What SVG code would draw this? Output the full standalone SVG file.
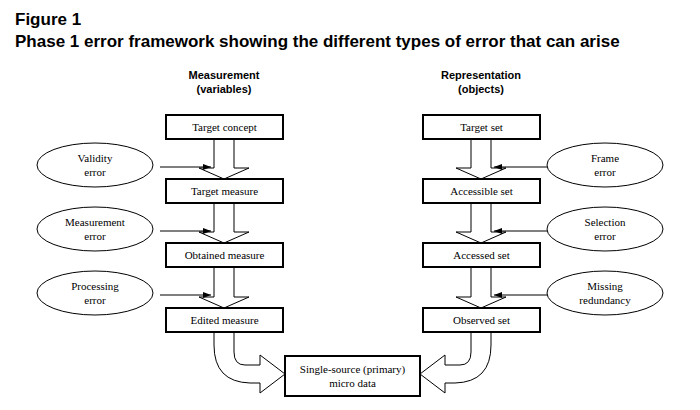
<svg xmlns="http://www.w3.org/2000/svg" width="700" height="410" viewBox="0 0 700 410">
<defs>
<style>
.t{font-family:"Liberation Sans",Arial,sans-serif;font-weight:bold;fill:#000}
.s{font-family:"Liberation Serif","Times New Roman",serif;font-size:11px;fill:#000;text-anchor:middle}
.b{fill:#fff;stroke:#000;stroke-width:2}
.e{fill:#fff;stroke:#000;stroke-width:1}
.a{fill:#fff;stroke:#000;stroke-width:1}
.l{stroke:#000;stroke-width:1;fill:none}
</style>
<marker id="m" markerWidth="8" markerHeight="6" refX="8" refY="3" orient="auto" markerUnits="userSpaceOnUse"><path d="M0,0L8,3L0,6z" fill="#000"/></marker>
</defs>
<rect width="700" height="410" fill="#fff"/>
<text class="t" x="15" y="25" font-size="17">Figure 1</text>
<text class="t" x="15" y="47" font-size="17">Phase 1 error framework showing the different types of error that can arise</text>
<text class="t" x="224" y="79" font-size="11" text-anchor="middle">Measurement</text>
<text class="t" x="224" y="93" font-size="11" text-anchor="middle">(variables)</text>
<text class="t" x="481" y="79" font-size="11" text-anchor="middle">Representation</text>
<text class="t" x="481" y="93" font-size="11" text-anchor="middle">(objects)</text>
<g id="connectors">
<path class="a" d="M214,139V168H199L224,179L249,168H234V139Z"/>
<path class="a" d="M214,203V232H199L224,243L249,232H234V203Z"/>
<path class="a" d="M214,267V297H199L224,308L249,297H234V267Z"/>
<path class="a" d="M471,139V168H456L481,179L506,168H491V139Z"/>
<path class="a" d="M471,203V232H456L481,243L506,232H491V203Z"/>
<path class="a" d="M471,267V297H456L481,308L506,297H491V267Z"/>
<path class="a" d="M214,332V345Q214,382 250,383H260V393L285,374L260,355V365H245Q234,365 234,352V332Z"/>
<path class="a" d="M491,332V345Q491,382 455,383H445V393L420,374L445,355V365H460Q471,365 471,352V332Z"/>
<line class="l" x1="160" y1="167" x2="211" y2="167" marker-end="url(#m)"/>
<line class="l" x1="160" y1="231" x2="211" y2="231" marker-end="url(#m)"/>
<line class="l" x1="160" y1="295" x2="211" y2="295" marker-end="url(#m)"/>
<line class="l" x1="548" y1="167" x2="494" y2="167" marker-end="url(#m)"/>
<line class="l" x1="548" y1="231" x2="494" y2="231" marker-end="url(#m)"/>
<line class="l" x1="548" y1="295" x2="494" y2="295" marker-end="url(#m)"/>
</g>
<g id="n1"><rect class="b" x="166" y="115" width="117" height="24"/><text class="s" x="224.5" y="131">Target concept</text></g>
<g id="n2"><rect class="b" x="166" y="179" width="117" height="24"/><text class="s" x="224.5" y="195">Target measure</text></g>
<g id="n3"><rect class="b" x="166" y="243" width="117" height="24"/><text class="s" x="224.5" y="259">Obtained measure</text></g>
<g id="n4"><rect class="b" x="166" y="308" width="117" height="24"/><text class="s" x="224.5" y="324">Edited measure</text></g>
<g id="n5"><rect class="b" x="423" y="115" width="117" height="24"/><text class="s" x="481.5" y="131">Target set</text></g>
<g id="n6"><rect class="b" x="423" y="179" width="117" height="24"/><text class="s" x="481.5" y="195">Accessible set</text></g>
<g id="n7"><rect class="b" x="423" y="243" width="117" height="24"/><text class="s" x="481.5" y="259">Accessed set</text></g>
<g id="n8"><rect class="b" x="423" y="308" width="117" height="24"/><text class="s" x="481.5" y="324">Observed set</text></g>
<g id="n9"><rect class="b" x="285" y="356" width="135" height="40"/><text class="s" x="352.5" y="373">Single-source (primary)</text><text class="s" x="352.5" y="387">micro data</text></g>
<g id="e1"><ellipse class="e" cx="95" cy="165" rx="58" ry="22"/><text class="s" x="95" y="162">Validity</text><text class="s" x="95" y="176">error</text></g>
<g id="e2"><ellipse class="e" cx="95" cy="229" rx="58" ry="22"/><text class="s" x="95" y="226">Measurement</text><text class="s" x="95" y="240">error</text></g>
<g id="e3"><ellipse class="e" cx="95" cy="293" rx="58" ry="22"/><text class="s" x="95" y="290">Processing</text><text class="s" x="95" y="304">error</text></g>
<g id="e4"><ellipse class="e" cx="605" cy="165" rx="58" ry="22"/><text class="s" x="605" y="162">Frame</text><text class="s" x="605" y="176">error</text></g>
<g id="e5"><ellipse class="e" cx="605" cy="229" rx="58" ry="22"/><text class="s" x="605" y="226">Selection</text><text class="s" x="605" y="240">error</text></g>
<g id="e6"><ellipse class="e" cx="605" cy="293" rx="58" ry="22"/><text class="s" x="605" y="290">Missing</text><text class="s" x="605" y="304">redundancy</text></g>
</svg>
